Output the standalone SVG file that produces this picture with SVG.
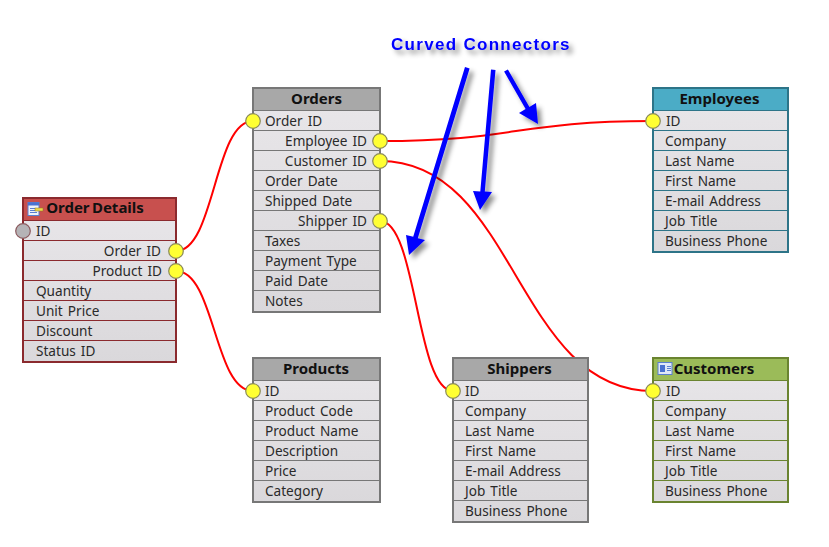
<svg xmlns="http://www.w3.org/2000/svg" width="829" height="547" viewBox="0 0 829 547">
<style>
text{font-family:"Noto Sans","DejaVu Sans",sans-serif;font-size:13.6px;word-spacing:1.5px;fill:#2a2a2a}
.t{font-weight:700;font-size:15px;word-spacing:0;fill:#111;text-anchor:middle}
.r{text-anchor:end}
.conn path{fill:none;stroke:#f00;stroke-width:2}
.pin{fill:#ff3;stroke:#8a8a5a;stroke-width:1.2}
.box{fill:url(#row);stroke-width:2}
.sep{stroke-width:1.2}
.grey .box,.grey .sep{stroke:#777}.grey .h{fill:#a8a8a8}
.red .box,.red .sep{stroke:#8b2a2e}.red .h{fill:#c8504e}
.teal .box,.teal .sep{stroke:#2d7488}.teal .h{fill:#4bacc6}
.green .box,.green .sep{stroke:#6a8430}.green .h{fill:#9bbb59}
.ar{fill:#00f}
#title{font-family:"Liberation Sans",Arial,sans-serif;font-weight:700;font-size:17px;word-spacing:0;letter-spacing:1.3px;fill:#00f}
</style>
<defs>
<linearGradient id="row" x1="0" y1="0" x2="0" y2="1"><stop offset="0" stop-color="#e9e7ea"/><stop offset="1" stop-color="#dad8db"/></linearGradient>
<filter id="sh" x="-50%" y="-50%" width="200%" height="200%"><feDropShadow dx="4" dy="4" stdDeviation="2.500" flood-color="#000" flood-opacity=".45"/></filter>
</defs>
<rect width="829" height="547" fill="#fff"/>
<g class="conn">
<path d="M176 251C215 251 214 121 253 121"/>
<path d="M176 271C215 271 214 391 253 391"/>
<path d="M380 141C516 141 516 121 653 121"/>
<path d="M380 161C516 161 516 391 653 391"/>
<path d="M380 221C417 221 416 391 453 391"/>
</g>
<g id="arrows" filter="url(#sh)">
<path class="ar" d="M465 67L469.600 68.400L417.800 238.200L425 240L409 255L406 235L413.200 236.800Z"/>
<path class="ar" d="M491 69.500L495.500 70L484.800 191.500L492 192L480 210L473 191L480.300 191.500Z"/>
<path class="ar" d="M504.100 71.600L507.900 69.400L529.400 106.900L536 103L538 124L519 113L525.600 109.100Z"/>
</g>
<text id="title" x="391" y="50" filter="url(#sh)">Curved Connectors</text>

<g id="order-details" class="red">
<rect class="box" x="23" y="198" width="153" height="164"/>
<rect class="h" x="24" y="199" width="151" height="21"/>
<path class="sep" d="M23 220.500H176M23 240.500H176M23 260.500H176M23 280.500H176M23 300.500H176M23 320.500H176M23 340.500H176" fill="none"/>
<g id="icon-od"><rect x="28" y="202.500" width="11" height="13" fill="#eef3fb" stroke="#5a7fd0"/><rect x="28" y="202.500" width="11" height="3" fill="#4a72d0"/><path d="M30 208.500h7M30 210.500h7M30 212.500h7" stroke="#5a7fd0"/><rect x="35" y="208" width="8" height="3" fill="#eed94a" stroke="#8a7a20" stroke-width=".5"/></g>
<text class="t" x="95" y="213" style="word-spacing:-1.5px">Order Details</text>
<text x="36" y="236">ID</text>
<text class="r" x="161" y="256">Order ID</text>
<text class="r" x="162" y="276">Product ID</text>
<text x="36" y="296">Quantity</text>
<text x="36" y="316">Unit Price</text>
<text x="36" y="336">Discount</text>
<text x="36" y="356">Status ID</text>
<circle cx="23" cy="231" r="7.300" fill="#b5b3b6" stroke="#8b5a5e" stroke-width="1.200"/>
<circle class="pin" cx="176" cy="251" r="7.300"/>
<circle class="pin" cx="176" cy="271" r="7.300"/>
</g>

<g id="orders" class="grey">
<rect class="box" x="253" y="88" width="127" height="224"/>
<rect class="h" x="254" y="89" width="125" height="21"/>
<path class="sep" d="M253 110.500H380M253 130.500H380M253 150.500H380M253 170.500H380M253 190.500H380M253 210.500H380M253 230.500H380M253 250.500H380M253 270.500H380M253 290.500H380" fill="none"/>
<text class="t" x="316.500" y="103.500">Orders</text>
<text x="265" y="126">Order ID</text>
<text class="r" x="367" y="146">Employee ID</text>
<text class="r" x="367" y="166">Customer ID</text>
<text x="265" y="186">Order Date</text>
<text x="265" y="206">Shipped Date</text>
<text class="r" x="367" y="226">Shipper ID</text>
<text x="265" y="246">Taxes</text>
<text x="265" y="266">Payment Type</text>
<text x="265" y="286">Paid Date</text>
<text x="265" y="306">Notes</text>
<circle class="pin" cx="253" cy="121" r="7.300"/>
<circle class="pin" cx="380" cy="141" r="7.300"/>
<circle class="pin" cx="380" cy="161" r="7.300"/>
<circle class="pin" cx="380" cy="221" r="7.300"/>
</g>

<g id="products" class="grey">
<rect class="box" x="253" y="358" width="127" height="144"/>
<rect class="h" x="254" y="359" width="125" height="21"/>
<path class="sep" d="M253 380.500H380M253 400.500H380M253 420.500H380M253 440.500H380M253 460.500H380M253 480.500H380" fill="none"/>
<text class="t" x="316" y="373.500">Products</text>
<text x="265" y="396">ID</text>
<text x="265" y="416">Product Code</text>
<text x="265" y="436">Product Name</text>
<text x="265" y="456">Description</text>
<text x="265" y="476">Price</text>
<text x="265" y="496">Category</text>
<circle class="pin" cx="253" cy="391" r="7.300"/>
</g>

<g id="shippers" class="grey">
<rect class="box" x="453" y="358" width="135" height="164"/>
<rect class="h" x="454" y="359" width="133" height="21"/>
<path class="sep" d="M453 380.500H588M453 400.500H588M453 420.500H588M453 440.500H588M453 460.500H588M453 480.500H588M453 500.500H588" fill="none"/>
<text class="t" x="519.500" y="373.500">Shippers</text>
<text x="465" y="396">ID</text>
<text x="465" y="416">Company</text>
<text x="465" y="436">Last Name</text>
<text x="465" y="456">First Name</text>
<text x="465" y="476">E-mail Address</text>
<text x="465" y="496">Job Title</text>
<text x="465" y="516">Business Phone</text>
<circle class="pin" cx="453" cy="391" r="7.300"/>
</g>

<g id="employees" class="teal">
<rect class="box" x="653" y="88" width="135" height="164"/>
<rect class="h" x="654" y="89" width="133" height="21"/>
<path class="sep" d="M653 110.500H788M653 130.500H788M653 150.500H788M653 170.500H788M653 190.500H788M653 210.500H788M653 230.500H788" fill="none"/>
<text class="t" x="719.500" y="103.500">Employees</text>
<text x="666" y="126">ID</text>
<text x="665" y="146">Company</text>
<text x="665" y="166">Last Name</text>
<text x="665" y="186">First Name</text>
<text x="665" y="206">E-mail Address</text>
<text x="665" y="226">Job Title</text>
<text x="665" y="246">Business Phone</text>
<circle class="pin" cx="653" cy="121" r="7.300"/>
</g>

<g id="customers" class="green">
<rect class="box" x="653" y="358" width="135" height="144"/>
<rect class="h" x="654" y="359" width="133" height="21"/>
<path class="sep" d="M653 380.500H788M653 400.500H788M653 420.500H788M653 440.500H788M653 460.500H788M653 480.500H788" fill="none"/>
<g id="icon-cu"><rect x="658" y="362.500" width="14" height="12" fill="#dfe8f8" stroke="#5a7fd0"/><rect x="660" y="365" width="5" height="7" fill="#4a72d0"/><path d="M667 366.500h4M667 368.500h4M667 370.500h4" stroke="#5a7fd0"/></g>
<text class="t" x="714" y="373.500">Customers</text>
<text x="666" y="396">ID</text>
<text x="665" y="416">Company</text>
<text x="665" y="436">Last Name</text>
<text x="665" y="456">First Name</text>
<text x="665" y="476">Job Title</text>
<text x="665" y="496">Business Phone</text>
<circle class="pin" cx="653" cy="391" r="7.300"/>
</g>
</svg>
